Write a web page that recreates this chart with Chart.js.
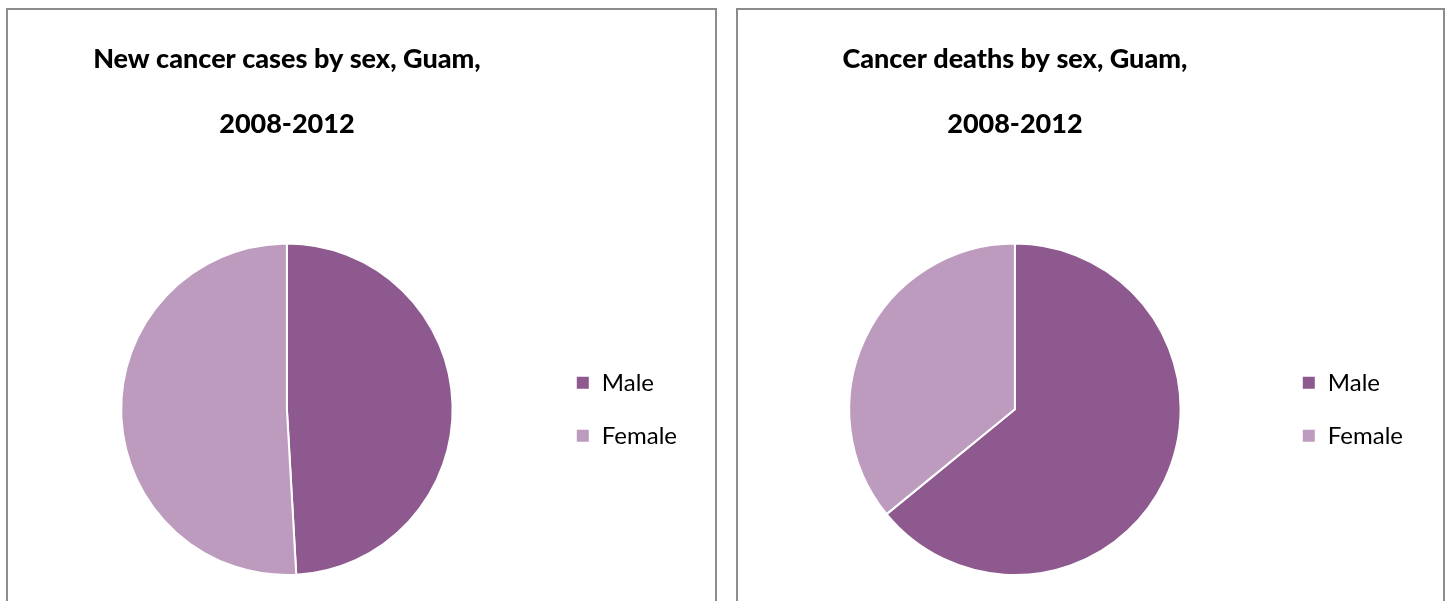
<!DOCTYPE html>
<html>
<head>
<meta charset="utf-8">
<script src="https://cdn.jsdelivr.net/npm/chart.js"></script>
<style>
  body { margin: 0; background: #fff; width: 1447px; height: 601px; overflow: hidden; position: relative; }
  .panel { position: absolute; top: 8px; height: 600px; border: 2px solid #8c8c8c; border-bottom: none; background: #fff; }
  #leftPanel { left: 6px; width: 707px; }
  #rightPanel { left: 736px; width: 705px; }
  canvas { display: block; }
</style>
</head>
<body>
<div class="panel" id="leftPanel"><canvas id="casesChart" width="707" height="591"></canvas></div>
<div class="panel" id="rightPanel"><canvas id="deathsChart" width="705" height="591"></canvas></div>
<script>
var sexLabels = ['Male', 'Female'];
var casesShare = [49.1, 50.9];
var deathsShare = [64.1, 35.9];
var sliceColors = ['#8e598e', '#bc9bbe'];
var casesTitle = ['New cancer cases by sex, Guam,', '2008-2012'];
var deathsTitle = ['Cancer deaths by sex, Guam,', '2008-2012'];

function pieOptions(titleLines, padRight)
{
    return {
        responsive: false,
        animation: false,
        layout: {
            padding: { top: 0, left: 19, right: padRight, bottom: 25 }
        },
        plugins: {
            title: {
                display: true,
                text: titleLines,
                fullSize: false,
                color: '#000',
                font: { family: 'Lato', size: 27, weight: '900', lineHeight: 2.4 },
                padding: { top: 17, bottom: 86 }
            },
            legend: {
                position: 'right',
                fullSize: false,
                align: 'center',
                labels: {
                    color: '#000',
                    font: { family: 'Lato', size: 24 },
                    boxWidth: 14,
                    boxHeight: 14,
                    padding: 29
                }
            },
            tooltip: { enabled: false }
        }
    };
}

function makePie(id, values, titleLines, padRight)
{
    return new Chart(document.getElementById(id), {
        type: 'pie',
        data: {
            labels: sexLabels,
            datasets: [{
                data: values,
                backgroundColor: sliceColors,
                borderColor: '#ffffff',
                borderWidth: 2
            }]
        },
        options: pieOptions(titleLines, padRight)
    });
}

makePie('casesChart', casesShare, casesTitle, 28);
makePie('deathsChart', deathsShare, deathsTitle, 30);
</script>
</body>
</html>
